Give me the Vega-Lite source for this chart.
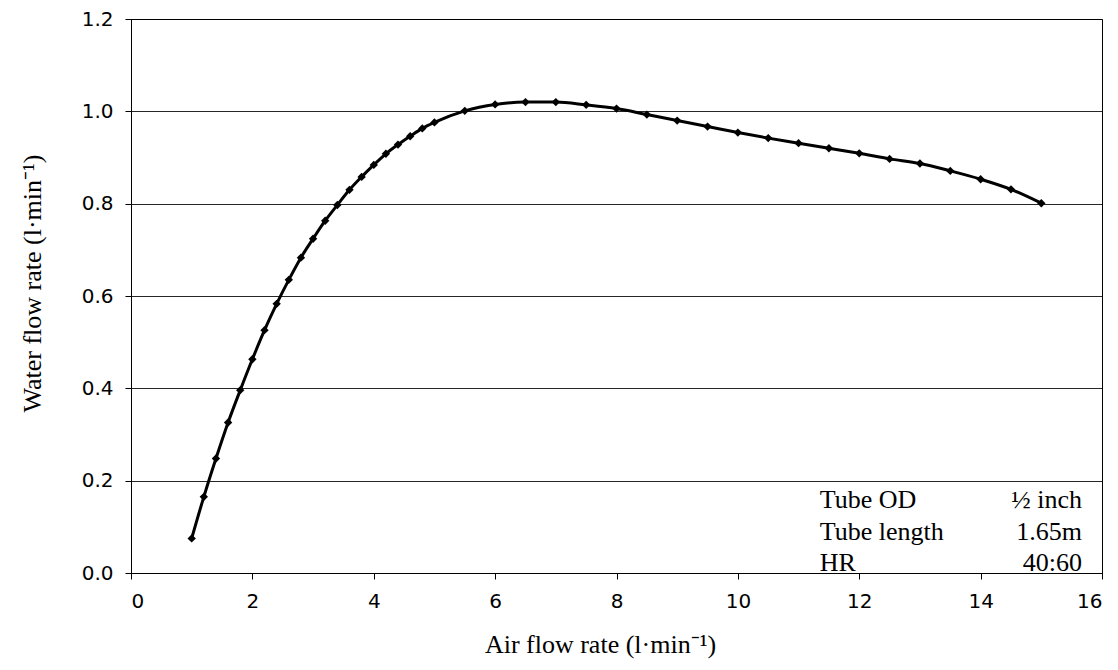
{
  "$schema": "https://vega.github.io/schema/vega-lite/v6.json",
  "width": 971,
  "height": 554,
  "autosize": "none",
  "padding": {"left": 131, "top": 19, "right": 16, "bottom": 97},
  "background": "white",
  "config": {
    "view": {"stroke": "black", "strokeWidth": 1},
    "axis": {"domainColor": "black", "tickColor": "black", "labelColor": "black", "titleColor": "black"}
  },
  "datasets": {
    "curve": [
      {"air": 1.0, "water": 0.075},
      {"air": 1.2, "water": 0.165},
      {"air": 1.4, "water": 0.248},
      {"air": 1.6, "water": 0.326},
      {"air": 1.8, "water": 0.396},
      {"air": 2.0, "water": 0.463},
      {"air": 2.2, "water": 0.526},
      {"air": 2.4, "water": 0.583},
      {"air": 2.6, "water": 0.635},
      {"air": 2.8, "water": 0.683},
      {"air": 3.0, "water": 0.724},
      {"air": 3.2, "water": 0.763},
      {"air": 3.4, "water": 0.797},
      {"air": 3.6, "water": 0.830},
      {"air": 3.8, "water": 0.858},
      {"air": 4.0, "water": 0.884},
      {"air": 4.2, "water": 0.908},
      {"air": 4.4, "water": 0.928},
      {"air": 4.6, "water": 0.946},
      {"air": 4.8, "water": 0.963},
      {"air": 5.0, "water": 0.976},
      {"air": 5.5, "water": 1.001},
      {"air": 6.0, "water": 1.015},
      {"air": 6.5, "water": 1.020},
      {"air": 7.0, "water": 1.020},
      {"air": 7.5, "water": 1.014},
      {"air": 8.0, "water": 1.006},
      {"air": 8.5, "water": 0.993},
      {"air": 9.0, "water": 0.980},
      {"air": 9.5, "water": 0.967},
      {"air": 10.0, "water": 0.954},
      {"air": 10.5, "water": 0.942},
      {"air": 11.0, "water": 0.931},
      {"air": 11.5, "water": 0.920},
      {"air": 12.0, "water": 0.909},
      {"air": 12.5, "water": 0.897},
      {"air": 13.0, "water": 0.887},
      {"air": 13.5, "water": 0.871},
      {"air": 14.0, "water": 0.853},
      {"air": 14.5, "water": 0.831},
      {"air": 15.0, "water": 0.801}
    ],
    "notes": [
      {"label": "Tube OD", "value": "½ inch", "lx": 11.35, "rx": 15.67, "y": 0.159},
      {"label": "Tube length", "value": "1.65m", "lx": 11.35, "rx": 15.67, "y": 0.089},
      {"label": "HR", "value": "40:60", "lx": 11.35, "rx": 15.67, "y": 0.022}
    ]
  },
  "layer": [
    {
      "data": {"name": "curve"},
      "mark": {"type": "line", "color": "black", "strokeWidth": 3, "interpolate": "monotone"},
      "encoding": {
        "x": {
          "field": "air", "type": "quantitative",
          "scale": {"domain": [0, 16], "nice": false},
          "axis": {
            "values": [0, 2, 4, 6, 8, 10, 12, 14, 16],
            "format": "d",
            "grid": false,
            "title": "Air flow rate (l·min⁻¹)",
            "titleFont": "Liberation Serif", "titleFontSize": 26, "titleFontWeight": "normal",
            "titlePadding": 20, "titleX": 469,
            "labelFont": "DejaVu Sans", "labelFontSize": 20,
            "tickSize": 6, "labelPadding": 12
          }
        },
        "y": {
          "field": "water", "type": "quantitative",
          "scale": {"domain": [0, 1.2], "nice": false},
          "axis": {
            "values": [0, 0.2, 0.4, 0.6, 0.8, 1.0, 1.2],
            "format": ".1f",
            "grid": true, "gridColor": "black", "gridOpacity": 0.85, "gridWidth": 1,
            "title": "Water  flow rate (l·min⁻¹)",
            "titleFont": "Liberation Serif", "titleFontSize": 26, "titleFontWeight": "normal",
            "titlePadding": 36, "titleY": 264,
            "labelFont": "DejaVu Sans", "labelFontSize": 20,
            "tickSize": 6, "labelPadding": 12
          }
        }
      }
    },
    {
      "data": {"name": "curve"},
      "mark": {"type": "point", "shape": "diamond", "filled": true, "color": "black", "size": 70, "opacity": 1},
      "encoding": {
        "x": {"field": "air", "type": "quantitative"},
        "y": {"field": "water", "type": "quantitative"}
      }
    },
    {
      "data": {"name": "notes"},
      "mark": {"type": "text", "align": "left", "baseline": "middle", "font": "Liberation Serif", "fontSize": 26, "color": "black"},
      "encoding": {
        "x": {"field": "lx", "type": "quantitative"},
        "y": {"field": "y", "type": "quantitative"},
        "text": {"field": "label"}
      }
    },
    {
      "data": {"name": "notes"},
      "mark": {"type": "text", "align": "right", "baseline": "middle", "font": "Liberation Serif", "fontSize": 26, "color": "black"},
      "encoding": {
        "x": {"field": "rx", "type": "quantitative"},
        "y": {"field": "y", "type": "quantitative"},
        "text": {"field": "value"}
      }
    }
  ]
}
